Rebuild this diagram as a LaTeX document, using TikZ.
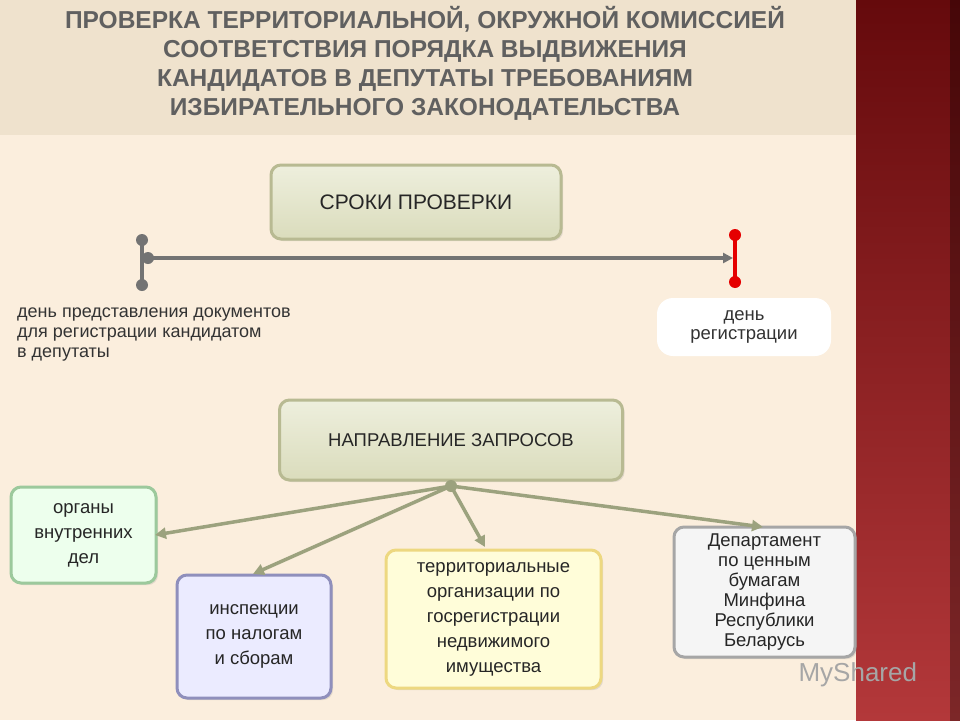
\documentclass[tikz,border=0pt]{standalone}
\usepackage{fontspec}
\setmainfont{Liberation Sans}
\usetikzlibrary{arrows.meta,shadows}
\definecolor{bg}{HTML}{FBEEDD}
\definecolor{band}{HTML}{EFE2CD}
\definecolor{redA}{HTML}{650A0C}
\definecolor{redB}{HTML}{B3383A}
\definecolor{arr}{HTML}{9CA27E}
\definecolor{hdtop}{HTML}{EEEFDD}
\definecolor{hdbot}{HTML}{DADCBC}
\definecolor{hdbd}{HTML}{B8BA92}
\tikzset{
 box/.style={draw=#1, line width=3pt, rounded corners=10pt, align=center, font=\fontsize{18.5}{25}\selectfont, text=black!85, drop shadow={opacity=0.2,shadow xshift=2pt,shadow yshift=-2pt}},
 hbox/.style={box=hdbd, top color=hdtop, bottom color=hdbot, font=\fontsize{21}{24}\selectfont},
 conn/.style={arr, line width=3.5pt, -{Triangle[length=11pt,width=11pt]}},
 ttl/.style={font=\bfseries\fontsize{24.5}{29}\selectfont, text=gray!75!black, align=center}
}
\begin{document}
\begin{tikzpicture}[x=1pt,y=-1pt]
\useasboundingbox (0,0) rectangle (960,720);
\fill[bg] (0,0) rectangle (856,720);
\fill[band] (0,0) rectangle (856,135);
\shade[top color=redA, bottom color=redB] (856,0) rectangle (960,720);
\shade[left color=black, right color=black, opacity=0.3] (950,0) rectangle (960,720);
\node[ttl] (title) at (425,63) {ПРОВЕРКА ТЕРРИТОРИАЛЬНОЙ, ОКРУЖНОЙ КОМИССИЕЙ\\СООТВЕТСТВИЯ ПОРЯДКА ВЫДВИЖЕНИЯ\\КАНДИДАТОВ В ДЕПУТАТЫ ТРЕБОВАНИЯМ\\ИЗБИРАТЕЛЬНОГО ЗАКОНОДАТЕЛЬСТВА};
\node[hbox, minimum width=290pt, minimum height=74pt] (srok) at (416,202) {СРОКИ ПРОВЕРКИ};
\node[hbox, minimum width=343pt, minimum height=80pt, font=\fontsize{18.5}{22}\selectfont] (napr) at (451,440) {НАПРАВЛЕНИЕ ЗАПРОСОВ};
% timeline
\coordinate (lt) at (142,240); \coordinate (lb) at (142,285);
\coordinate (ls) at (148,258); \coordinate (re) at (733,258);
\coordinate (rt) at (735,235); \coordinate (rb) at (735,282);
\draw[gray!90!black, line width=4.5pt] (lt) -- (lb);
\fill[gray!90!black] (lt) circle (6) (lb) circle (6) (ls) circle (6);
\draw[gray!90!black, line width=4.5pt, -{Triangle[length=10pt,width=10pt]}] (ls) -- (re);
\draw[red!90!black, line width=4.5pt] (rt) -- (rb);
\fill[red!90!black] (rt) circle (6) (rb) circle (6);
\node[anchor=north west, align=left, font=\fontsize{18}{20}\selectfont, text=black!80, inner sep=0] (den1) at (17,308) {день представления документов\\для регистрации кандидатом\\в депутаты};
\node[fill=white, rounded corners=16pt, minimum width=174pt, minimum height=58pt, align=center, font=\fontsize{18.5}{19}\selectfont, text=black!80] (den2) at (744,327) {день\\регистрации};
% bottom boxes
\node[box=green!30!gray!60, fill=green!7!white, minimum width=145pt, minimum height=96pt] (org) at (83.5,535) {органы\\внутренних\\дел};
\node[box=blue!25!gray!70, fill=blue!8!white, minimum width=154pt, minimum height=123pt] (insp) at (254,636.5) {инспекции\\по налогам\\и сборам};
\node[box=yellow!50!brown!60, fill=yellow!15!white, minimum width=215pt, minimum height=138pt] (terr) at (493.5,619) {территориальные\\организации по\\госрегистрации\\недвижимого\\имущества};
\node[box=gray!70, fill=gray!8!white, minimum width=181pt, minimum height=130pt, font=\fontsize{18.5}{20}\selectfont] (dep) at (764.5,592) {Департамент\\по ценным\\бумагам\\Минфина\\Республики\\Беларусь};
\coordinate (hub) at (451,486);
\fill[arr] (hub) circle (6);
\draw[conn] (hub) -- (155,535);
\draw[conn] (hub) -- (253,574);
\draw[conn] (hub) -- (485,547);
\draw[conn] (hub) -- (763,527);
\node[font=\fontsize{26}{28}\selectfont, text=gray!70, anchor=west] (ms) at (795,675) {MyShared};
\end{tikzpicture}
\end{document}
